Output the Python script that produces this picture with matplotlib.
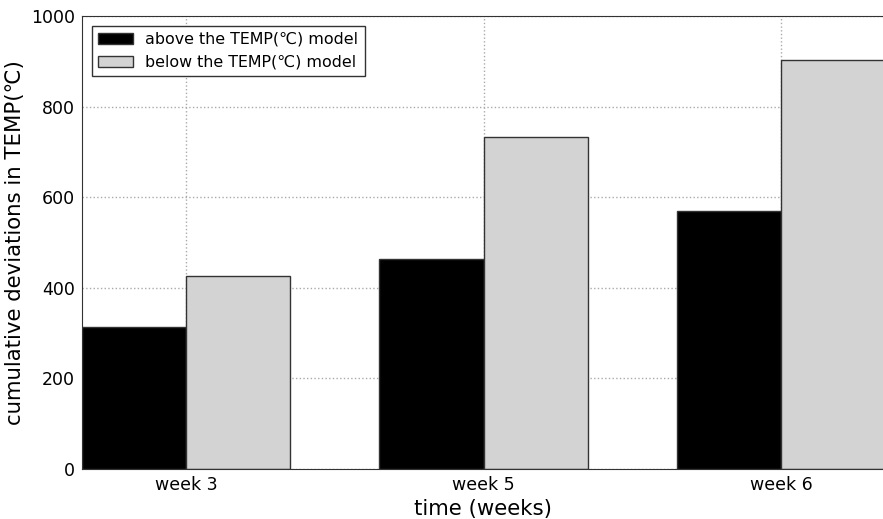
import numpy as np
import matplotlib
matplotlib.use("Agg")
import matplotlib.pyplot as plt

weeks = ["week 3", "week 5", "week 6"]
above = [314, 464, 570]
below = [426, 733, 903]

width = 0.35
index = np.arange(len(weeks))

fig = plt.figure(figsize=(8.83, 5.19), dpi=100)
ax = fig.add_axes([82 / 883, 50 / 519, 803 / 883, 453 / 519])

ax.bar(index, above, width, color="black", edgecolor="#333333", linewidth=1,
       align="edge", label="above the TEMP(\u2103) model")
ax.bar(index + width, below, width, color="lightgray", edgecolor="#333333", linewidth=1,
       align="edge", label="below the TEMP(\u2103) model")

ax.set_xlim(0, 2 + 2 * width)
ax.set_ylim(0, 1000)
ax.set_xticks(index + width)
ax.set_xticklabels(weeks)
ax.set_yticks([0, 200, 400, 600, 800, 1000])
ax.tick_params(labelsize=12.5, length=0, pad=5)
ax.grid(True, color="#aaaaaa", linestyle=":", linewidth=1)
ax.set_axisbelow(True)
for s in ax.spines.values():
    s.set_color("#333333")

ax.set_xlabel("time (weeks)", fontsize=15.3)
ax.set_ylabel("cumulative deviations in TEMP(\u2103)", fontsize=15.3)

leg = ax.legend(loc="upper left", fontsize=11.4, fancybox=False, framealpha=1,
                handlelength=2.2, borderaxespad=0.6)
leg.get_frame().set_edgecolor("#333333")

fig.savefig("out.png", dpi=100)
